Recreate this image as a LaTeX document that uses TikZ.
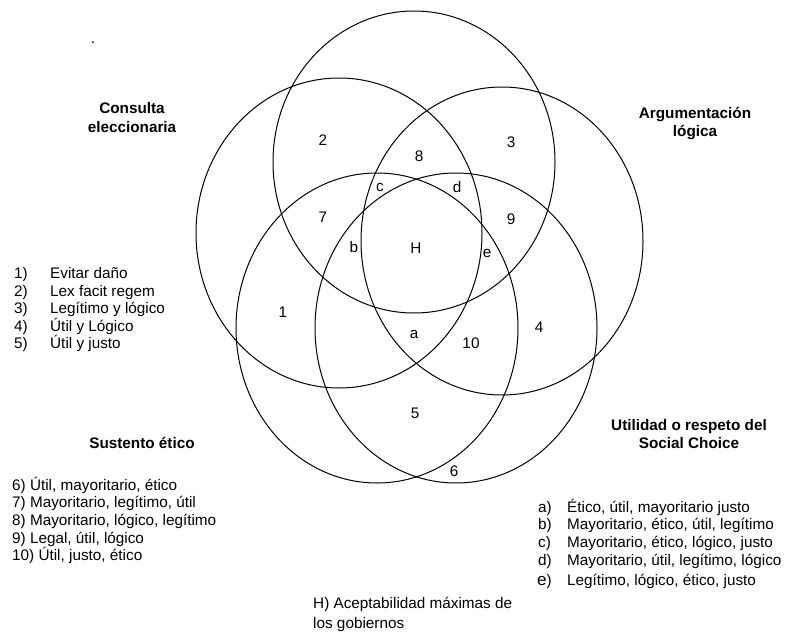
\documentclass[tikz,border=0pt]{standalone}
\usepackage{fontspec}
\setmainfont{Liberation Sans}
\begin{document}
\begin{tikzpicture}[x=1pt,y=-1pt,
  txt/.style={inner sep=0pt,font=\fontsize{15.3}{17.8}\selectfont},
  ttl/.style={txt,font=\fontsize{15.3}{17.8}\selectfont\bfseries},
  reg/.style={txt,anchor=center},
  venn/.style={line width=1pt,draw=black}]
\useasboundingbox (0,0) rectangle (803,637);
% circles
\draw[venn] (414,162) ellipse [x radius=141pt, y radius=151pt];
\draw[venn] (339,233) ellipse [x radius=143pt, y radius=155pt];
\draw[venn] (502,241) ellipse [x radius=141pt, y radius=154pt];
\draw[venn] (377,328) ellipse [x radius=141pt, y radius=155pt];
\draw[venn] (456,328) ellipse [x radius=141pt, y radius=155pt];
% stray dot
\node[txt,anchor=base] (dot) at (93,43) {.};
% titles
\node[ttl,anchor=base] (t1a) at (132,113) {Consulta};
\node[ttl,anchor=base] (t1b) at (132,132) {eleccionaria};
\node[ttl,anchor=base] (t2a) at (695,118) {Argumentación};
\node[ttl,anchor=base] (t2b) at (695,136) {lógica};
\node[ttl,anchor=base] (t3a) at (689,430) {Utilidad o respeto del};
\node[ttl,anchor=base] (t3b) at (689,448) {Social Choice};
\node[ttl,anchor=base] (t4) at (142,448) {Sustento ético};
% region labels
\node[reg] (r2) at (323,140) {2};
\node[reg] (r8) at (419,156) {8};
\node[reg] (r3) at (511,142) {3};
\node[reg] (rc) at (380,187) {c};
\node[reg] (rd) at (457,187) {d};
\node[reg] (r7) at (323,217) {7};
\node[reg] (r9) at (511,219) {9};
\node[reg] (rb) at (354,247) {b};
\node[reg] (rH) at (416,248) {H};
\node[reg] (re) at (487,253) {e};
\node[reg] (r1) at (283,312) {1};
\node[reg] (r4) at (539,327) {4};
\node[reg] (ra) at (414,334) {a};
\node[reg] (r10) at (471,343) {10};
\node[reg] (r5) at (415,413) {5};
\node[reg] (r6) at (454,471) {6};
% list 1-5
\foreach \n/\t [count=\k from 0] in {1/Evitar daño,2/Lex facit regem,3/Legítimo y lógico,4/Útil y Lógico,5/Útil y justo}{
  \node[txt,anchor=base west] (la\n) at (14,278.5+17.6*\k) {\n)};
  \node[txt,anchor=base west] (lb\n) at (50,278.5+17.6*\k) {\t};
}
% list 6-10
\foreach \t [count=\k from 0] in {{6) Útil, mayoritario, ético},{7) Mayoritario, legítimo, útil},{8) Mayoritario, lógico, legítimo},{9) Legal, útil, lógico},{10) Útil, justo, ético}}{
  \node[txt,anchor=base west] (m\k) at (12,490+17.7*\k) {\t};
}
% list a-e
\foreach \n/\t [count=\k from 0] in {a/{Ético, útil, mayoritario justo},b/{Mayoritario, ético, útil, legítimo},c/{Mayoritario, ético, lógico, justo},d/{Mayoritario, útil, legítimo, lógico}}{
  \node[txt,anchor=base west] (na\n) at (538,512+17.8*\k) {\n)};
  \node[txt,anchor=base west] (nb\n) at (567,512+17.8*\k) {\t};
}
\node[txt,anchor=base west] (nae) at (537,585) {{\fontsize{17}{18}\selectfont e})};
\node[txt,anchor=base west] (nbe) at (567,585) {Legítimo, lógico, ético, justo};
% H note
\node[txt,anchor=base west] (h1) at (313,608) {H) Aceptabilidad máximas de};
\node[txt,anchor=base west] (h2) at (313,628) {los gobiernos};
\end{tikzpicture}
\end{document}
